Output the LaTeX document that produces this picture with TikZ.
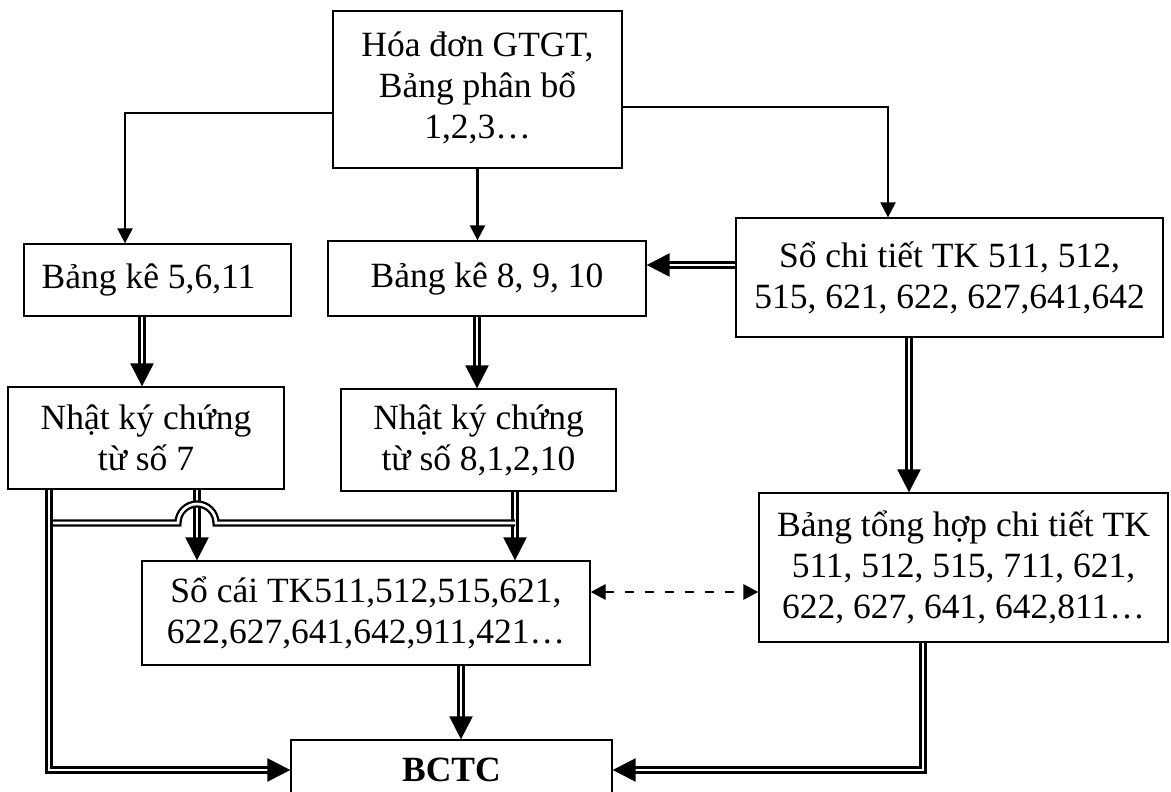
\documentclass[tikz,border=0pt]{standalone}
\usepackage{fontspec}
\setmainfont{Liberation Serif}
\usetikzlibrary{arrows.meta,calc}

\tikzset{
  box/.style={draw, line width=1.3pt, rectangle, align=center, inner sep=0pt,
    font=\fontsize{35.5}{41}\selectfont},
  arr/.style={line width=2.4pt, -{Triangle[length=15pt,width=15pt]}},
  dline/.style={double, line width=2.3pt, double distance=2.7pt},
  darr/.style={dline, -{Triangle[length=23pt,width=23pt]}},
  dasharr/.style={line width=2.8pt, dash pattern=on 9pt off 11pt,
    {Triangle[length=15pt,width=15pt]}-{Triangle[length=15pt,width=15pt]}}
}

\begin{document}
\begin{tikzpicture}[x=1pt,y=-1pt]
\useasboundingbox (0,0) rectangle (1171,792);
\clip (0,0) rectangle (1171,792);
\fill[white] (0,0) rectangle (1171,792);

% boxes (centre, width, height)
\node[box, minimum width=289pt, minimum height=157pt] (top) at (477.5,89.5)
  {Hóa đơn GTGT,\\Bảng phân bổ\\1,2,3…\\[-33pt]};
\node[box, minimum width=267pt, minimum height=72pt] (bk5) at (157.5,280)
  {\hbox{Bảng kê 5,6,11\hspace{18pt}}};
\node[box, minimum width=318pt, minimum height=75pt] (bk8) at (487,278.5)
  {Bảng kê 8, 9, 10};
\node[box, minimum width=427pt, minimum height=119pt] (sct) at (949.5,277.5)
  {Sổ chi tiết TK 511, 512,\\515, 621, 622, 627,641,642};
\node[box, minimum width=276pt, minimum height=102pt] (nk7) at (146,438)
  {Nhật ký chứng\\từ số 7};
\node[box, minimum width=275pt, minimum height=102pt] (nk8) at (478.5,440)
  {Nhật ký chứng\\từ số 8,1,2,10};
\node[box, minimum width=409pt, minimum height=149pt] (btk) at (963.5,567.5)
  {Bảng tổng hợp chi tiết TK\\511, 512, 515, 711, 621,\\622, 627, 641, 642,811…};
\node[box, minimum width=448pt, minimum height=104pt] (sc) at (366,613)
  {Sổ cái TK511,512,515,621,\\622,627,641,642,911,421…};
\node[box, minimum width=321pt, minimum height=60pt, font=\fontsize{35.5}{41}\selectfont\bfseries] (bctc) at (451.5,770)
  {BCTC};

% single arrows from the source documents
\draw[arr] ([yshift=-23.5pt]top.west) -| ([xshift=-32.5pt]bk5.north);
\draw[arr] (top.south) -- (top.south |- bk8.north);
\draw[arr] ([yshift=-17.5pt]top.east) -| ([xshift=-61.5pt]sct.north);

% double arrows
\draw[darr] ([yshift=12.5pt]sct.west) -- ([yshift=12.5pt]sct.west -| bk8.east);
\draw[darr] ([xshift=-15.5pt]bk5.south) -- ([xshift=-15.5pt]bk5.south |- nk7.north);
\draw[darr] ([xshift=-10pt]bk8.south) -- ([xshift=-10pt]bk8.south |- nk8.north);
\draw[darr] ([xshift=-40.5pt]sct.south) -- ([xshift=-40.5pt]sct.south |- btk.north);

% journals into the ledger
\draw[darr] ([xshift=51pt]nk7.south) -- ([xshift=51pt]nk7.south |- sc.north);
\draw[darr] ([xshift=36.5pt]nk8.south) -- ([xshift=36.5pt]nk8.south |- sc.north);

% cross line with a hop over the vertical at x = 197
\coordinate (hl) at ([xshift=-97pt]nk7.south |- 0,523);
\coordinate (hr) at ([xshift=36.5pt]nk8.south |- 0,523);
\coordinate (hop) at ([xshift=51pt]nk7.south |- 0,523);
\draw[dline] (hl) -- ([xshift=-19pt]hop) arc[start angle=180, end angle=0, radius=19pt] -- (hr);

% into the financial statements
\draw[darr] ([xshift=-97pt]nk7.south) |- (bctc.west);
\draw[darr] ([xshift=-40.5pt]btk.south) |- (bctc.east);
\draw[darr] ([xshift=95pt]sc.south) -- ([xshift=95pt]sc.south |- bctc.north);

% reconciliation
\draw[dasharr] ([yshift=21pt]sc.east) -- ([yshift=21pt]sc.east -| btk.west);
\end{tikzpicture}
\end{document}
